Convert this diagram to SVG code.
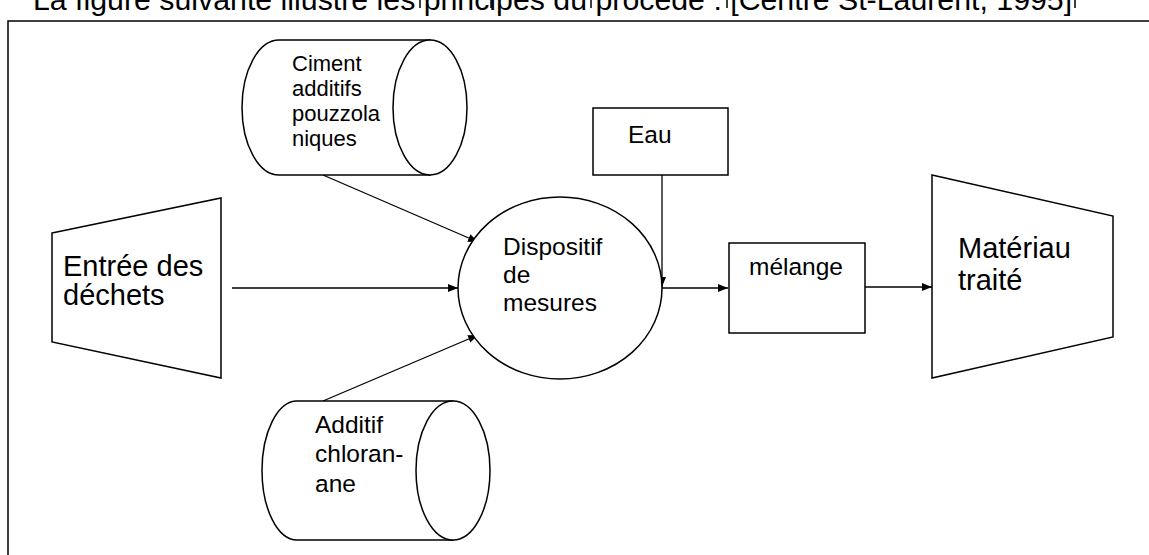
<svg xmlns="http://www.w3.org/2000/svg" width="1149" height="555" viewBox="0 0 1149 555">
<style>
.s{fill:#fff;stroke:#000;stroke-width:1.5}
.n{fill:none;stroke:#000;stroke-width:1.5}
.c{fill:none;stroke:#000;stroke-width:1.3}
text{font-family:"Liberation Sans",Arial,sans-serif;fill:#000}
.t22{font-size:22px}
.t24{font-size:24.5px}
.t29{font-size:29px}
</style>
<defs>
<marker id="ah" markerWidth="10" markerHeight="8" refX="10" refY="4" orient="auto" markerUnits="userSpaceOnUse">
<path d="M0,0 L10,4 L0,8 Z" fill="#000"/>
</marker>
</defs>
<rect width="1149" height="555" fill="#fff"/>
<g id="caption">
<text x="33" y="10" style="font-size:30.3px">La figure suivante illustre les principes du procédé : [Centre St-Laurent, 1995]</text>
<path class="n" d="M420,0V8 M491,0V8 M591,0V8 M727,0V8 M1075,0V8" stroke-width="1.2"/>
</g>
<g id="frame">
<path class="n" d="M8,555V21H1149"/>
</g>
<g id="connectors">
<line class="c" x1="323" y1="175" x2="478" y2="242" marker-end="url(#ah)"/>
<line class="c" x1="232" y1="288" x2="458" y2="288" marker-end="url(#ah)"/>
<line class="c" x1="323" y1="401" x2="478" y2="335" marker-end="url(#ah)"/>
<line class="c" x1="662" y1="175" x2="662" y2="287" marker-end="url(#ah)"/>
<line class="c" x1="638" y1="288" x2="728" y2="288" marker-end="url(#ah)"/>
<line class="c" x1="865" y1="287" x2="932" y2="287" marker-end="url(#ah)"/>
</g>
<g id="ciment">
<path class="s" d="M279,40 H430 V175 H279 A37,67.5 0 0 1 279,40 Z"/>
<ellipse class="s" cx="430" cy="107.5" rx="37" ry="67.5"/>
<text class="t22" x="292" y="71">Ciment</text>
<text class="t22" x="292" y="96">additifs</text>
<text class="t22" x="292" y="121">pouzzola</text>
<text class="t22" x="292" y="146">niques</text>
</g>
<g id="entree">
<polygon class="s" points="52,233 221,198 221,378 52,342"/>
<text class="t29" x="63" y="276">Entrée des</text>
<text class="t29" x="63" y="305">déchets</text>
</g>
<g id="dispositif">
<ellipse class="s" cx="560" cy="288" rx="102" ry="91"/>
<text class="t24" x="503" y="255">Dispositif</text>
<text class="t24" x="503" y="283">de</text>
<text class="t24" x="503" y="311">mesures</text>
</g>
<g id="additif">
<path class="s" d="M297,401 H453 V540 H297 A35,69.5 0 0 1 297,401 Z"/>
<ellipse class="s" cx="453" cy="470.5" rx="37" ry="69.5"/>
<text class="t24" x="315" y="433">Additif</text>
<text class="t24" x="315" y="462">chloran-</text>
<text class="t24" x="315" y="492">ane</text>
</g>
<g id="eau">
<rect class="s" x="593" y="108" width="135" height="67"/>
<text class="t24" x="628" y="143">Eau</text>
</g>
<g id="melange">
<rect class="s" x="729" y="243" width="136" height="90"/>
<text class="t24" x="749" y="275">mélange</text>
</g>
<g id="materiau">
<polygon class="s" points="932,175 1113,216 1113,337 932,378"/>
<text class="t29" x="958" y="258">Matériau</text>
<text class="t29" x="958" y="290">traité</text>
</g>
</svg>
